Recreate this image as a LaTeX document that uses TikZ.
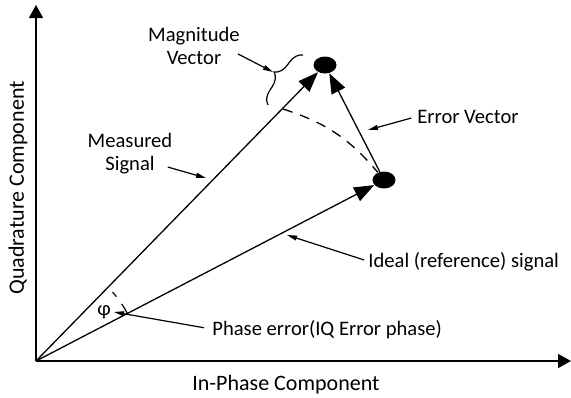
\documentclass[tikz,border=0pt]{standalone}
\usepackage{fontspec}
\setmainfont{Carlito}
\usetikzlibrary{arrows.meta,shapes.geometric,decorations.pathreplacing}
\tikzset{
  vec/.style={line width=0.65pt, -{Triangle[length=10pt,width=7.5pt]}},
  axis/.style={line width=0.75pt, -{Triangle[length=6.5pt,width=7pt]}},
  lead/.style={line width=0.6pt, -{Triangle[length=5pt,width=2.4pt]}},
  dot/.style={ellipse, fill=black, inner sep=0pt, minimum width=11.5pt, minimum height=8.5pt},
  lbl/.style={inner sep=0pt, font=\fontsize{10.3}{11.5}\selectfont},
  axlbl/.style={inner sep=0pt, font=\fontsize{11}{13}\selectfont},
}

\begin{document}
\begin{tikzpicture}[x=0.5pt, y=-0.5pt]
	%%%%% START %%%%%
	\useasboundingbox (0,0) rectangle (571,397);
	
	% axes
	\coordinate (O) at (36,361);
	\coordinate (qtop) at (36,5);
	\coordinate (iend) at (571,361);
	\draw[axis] (O) -- (qtop);
	\draw[axis] (O) -- (iend);
	
	% signal points and vectors
	\node[dot] (meas) at (325,65) {};
	\node[dot] (ideal) at (384,180) {};
	\draw[vec] (O) -- (meas);
	\draw[vec] (O) -- (ideal);
	\draw[vec] (ideal) -- (meas);
	
	\coordinate (arcA) at (283,109);
	\draw[line width=0.65pt, dash pattern=on 5pt off 4pt] (arcA) to[bend left=16] (ideal);
	
	% phase angle
	\draw[line width=0.6pt, dash pattern=on 6pt off 4.5pt on 3pt off 20pt] ([shift={(27:51.5pt)}]O) arc[start angle=27, end angle=43, radius=51.5pt];
	\node[lbl] (phi) at (104,312) {φ};
	
	% magnitude brace
	\coordinate (brA) at (268,105);
	\coordinate (brB) at (303,55);
	\coordinate (brtip) at (273,72);
	\draw[line width=0.6pt, decorate, decoration={brace, amplitude=7pt}] (brA) -- (brB);
	
	% labels
	\node[axlbl, rotate=90] (qlbl) at (18,188) {Quadrature Component};
	\node[axlbl, anchor=base west] (ilbl) at (192,390) {In-Phase Component};
	\node[lbl, align=center] (magn) at (194,46) {Magnitude\\Vector};
	\node[lbl, align=center] (mlbl) at (130,154) {Measured\\Signal};
	\node[lbl, anchor=base west] (elbl) at (417,123) {Error Vector};
	\node[lbl, anchor=base west] (rlbl) at (368,267) {Ideal (reference) signal};
	\node[lbl, anchor=base west] (plbl) at (212,335) {Phase error(IQ Error phase)};
	
	% leaders
	\coordinate (onmeas) at (206,178);
	\coordinate (onerr) at (368,130);
	\coordinate (onideal) at (287,235);
	\coordinate (phend) at (114,312);
	\draw[lead, shorten <=1pt] ([shift={(-4,7)}]magn.east) -- (brtip);
	\draw[lead] ([shift={(-5,13)}]mlbl.east) -- (onmeas);
	\draw[lead, shorten <=3pt] (elbl.west) -- (onerr);
	\draw[lead, shorten <=2pt] (rlbl.west) -- (onideal);
	\draw[lead, shorten <=4pt] (plbl.west) -- (phend);
	
	%%%%% END %%%%%
\end{tikzpicture}
\end{document}
